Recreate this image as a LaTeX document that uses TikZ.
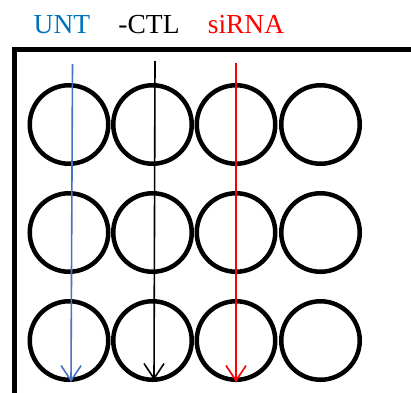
\documentclass[tikz,border=0pt]{standalone}
\usepackage{fontspec}
\setmainfont{Liberation Serif}
\usetikzlibrary{arrows.meta}
\definecolor{untblue}{RGB}{0,112,192}
\definecolor{arrowblue}{RGB}{68,114,196}
\definecolor{sired}{RGB}{255,0,0}
\begin{document}
\begin{tikzpicture}[x=1pt,y=-1pt,
  well/.style={circle,draw=black,line width=4.5pt,minimum size=78.5pt,inner sep=0pt},
  lab/.style={anchor=base,font=\fontsize{27.5}{28}\selectfont,inner sep=0pt},
  probe/.style={line width=1.6pt,-{Straight Barb[length=15pt,width=20pt]}}]
  \useasboundingbox (0,0) rectangle (411,392);
  \clip (0,0) rectangle (411,392);
  % plate frame
  \draw[line width=5pt] (14.5,400) -- (14.5,49.5) -- (420,49.5);
  % wells
  \foreach \r/\y in {1/124.5,2/232.5,3/340.5}
    \foreach \c/\x in {1/69,2/152.5,3/236,4/320.5}
      \node[well] (w\r\c) at (\x,\y) {};
  % labels
  \node[lab,text=untblue] (unt) at (62,33.5) {UNT};
  \node[lab,text=black] (ctl) at (149,33.5) {-CTL};
  \node[lab,text=sired] (sirna) at (246,33.5) {siRNA};
  % treatment arrows
  \coordinate (ut) at (72.5,64);
  \coordinate (ub) at (71,382);
  \coordinate (ct) at (155,61);
  \coordinate (cb) at (154,380);
  \coordinate (st) at (236,62.5);
  \coordinate (sb) at (236,382);
  \draw[probe,draw=arrowblue] (ut) -- (ub);
  \draw[probe,draw=black] (ct) -- (cb);
  \draw[probe,draw=sired] (st) -- (sb);
\end{tikzpicture}
\end{document}
